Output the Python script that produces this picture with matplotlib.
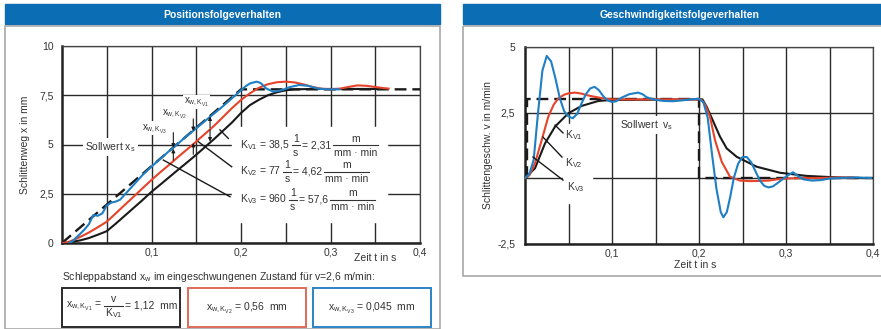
import numpy as np
import matplotlib.pyplot as plt
from matplotlib.patches import Rectangle

plt.rcParams['font.family'] = ['Liberation Sans', 'DejaVu Sans']
plt.rcParams['mathtext.fontset'] = 'custom'
plt.rcParams['mathtext.rm'] = 'Liberation Sans'
plt.rcParams['mathtext.it'] = 'Liberation Sans'
plt.rcParams['mathtext.bf'] = 'Liberation Sans:bold'
plt.rcParams['mathtext.default'] = 'regular'

# --- Daten: Positionsfolgeverhalten ---
soll_x_t = [0.0, 0.2, 0.4]
soll_x = [0.0, 7.8, 7.8]

kv1_x_t = [0.0, 0.01, 0.02, 0.03, 0.04, 0.05, 0.06, 0.07, 0.08, 0.09, 0.10, 0.11, 0.12,
           0.13, 0.14, 0.15, 0.16, 0.17, 0.18, 0.19, 0.20, 0.21, 0.22, 0.23, 0.24, 0.25,
           0.26, 0.28, 0.30, 0.36]
kv1_x = [0.0, 0.05, 0.13, 0.25, 0.42, 0.6, 0.98, 1.38, 1.78, 2.18, 2.6, 2.97, 3.35,
         3.73, 4.1, 4.48, 4.88, 5.28, 5.7, 6.12, 6.6, 7.0, 7.27, 7.5, 7.65, 7.75,
         7.8, 7.82, 7.82, 7.82]

kv2_x_t = [0.0, 0.005, 0.01, 0.02, 0.03, 0.04, 0.05, 0.06, 0.07, 0.08, 0.09, 0.10, 0.11,
           0.12, 0.13, 0.14, 0.15, 0.16, 0.17, 0.18, 0.19, 0.20, 0.21, 0.22, 0.23, 0.24,
           0.25, 0.26, 0.27, 0.28, 0.29, 0.30, 0.31, 0.32, 0.33, 0.34, 0.35, 0.36, 0.365]
kv2_x = [0.0, 0.02, 0.1, 0.3, 0.53, 0.8, 1.08, 1.5, 1.93, 2.35, 2.78, 3.2, 3.6,
         3.98, 4.38, 4.76, 5.15, 5.55, 5.95, 6.4, 6.85, 7.26, 7.6, 7.88, 8.06, 8.16,
         8.19, 8.15, 8.05, 7.92, 7.83, 7.8, 7.83, 7.92, 8.0, 7.98, 7.92, 7.86, 7.84]

kv3_x_t = [0.008, 0.012, 0.016, 0.02, 0.025, 0.03, 0.035, 0.04, 0.045, 0.05, 0.055, 0.06,
           0.065, 0.07, 0.08, 0.09, 0.10, 0.12, 0.14, 0.16, 0.18, 0.19, 0.20, 0.205,
           0.21, 0.2175, 0.222, 0.228, 0.236, 0.245, 0.255, 0.265, 0.275, 0.285, 0.295, 0.31]
kv3_x = [0.0, 0.1, 0.28, 0.45, 0.68, 0.95, 1.42, 1.38, 1.5, 1.9, 2.05, 2.1,
         2.2, 2.45, 2.95, 3.45, 3.88, 4.68, 5.45, 6.2, 6.95, 7.35, 7.75, 7.95,
         8.1, 8.19, 8.12, 7.85, 7.68, 7.75, 7.92, 8.02, 7.98, 7.85, 7.8, 7.8]

# --- Daten: Geschwindigkeitsfolgeverhalten ---
soll_v_t = [0.002, 0.002, 0.2, 0.2, 0.4]
soll_v = [0.0, 3.0, 3.0, 0.0, 0.0]

kv1_v_t = [0.0, 0.0115, 0.023, 0.0345, 0.0498, 0.065, 0.0843, 0.1, 0.2, 0.204, 0.2088,
           0.2165, 0.2241, 0.2318, 0.2433, 0.2663, 0.2931, 0.3238, 0.36, 0.389]
kv1_v = [0.0, 0.37, 1.32, 1.96, 2.47, 2.75, 2.94, 2.98, 3.0, 3.0, 2.72,
         2.15, 1.58, 1.13, 0.81, 0.43, 0.2, 0.08, 0.02, 0.0]

kv2_v_t = [0.0, 0.005, 0.0115, 0.0192, 0.0268, 0.033, 0.0383, 0.045, 0.05, 0.0575, 0.065,
           0.07, 0.08, 0.09, 0.1, 0.2, 0.203, 0.207, 0.2126, 0.2184, 0.2261, 0.2356,
           0.2471, 0.26, 0.28, 0.29, 0.3, 0.32, 0.34, 0.36, 0.377]
kv2_v = [0.0, 0.1, 0.56, 1.45, 2.34, 2.8, 3.04, 3.18, 3.23, 3.26, 3.22,
         3.17, 3.1, 3.04, 3.0, 3.0, 2.98, 2.8, 2.34, 1.45, 0.62, 0.05,
         -0.1, -0.12, -0.1, -0.05, -0.02, 0.0, 0.0, 0.02, 0.02]

kv3_v_t = [0.0, 0.005, 0.01, 0.015, 0.02, 0.025, 0.03, 0.035, 0.04, 0.045, 0.05, 0.055,
           0.06, 0.065, 0.07, 0.075, 0.08, 0.085, 0.09, 0.095, 0.1, 0.105, 0.11, 0.12,
           0.13, 0.135, 0.14, 0.15, 0.16, 0.17, 0.18, 0.19, 0.2, 0.205, 0.21, 0.215,
           0.22, 0.225, 0.228, 0.232, 0.236, 0.24, 0.245, 0.25, 0.255, 0.26, 0.265,
           0.27, 0.275, 0.28, 0.285, 0.29, 0.3, 0.308, 0.315, 0.32, 0.33, 0.34, 0.35,
           0.36, 0.38, 0.398]
kv3_v = [0.0, 0.15, 0.7, 2.5, 4.1, 4.66, 4.45, 3.8, 3.05, 2.55, 2.35, 2.28,
         2.45, 2.85, 3.2, 3.42, 3.48, 3.35, 3.12, 2.96, 2.9, 2.93, 3.05, 3.2,
         3.26, 3.2, 3.08, 2.98, 2.94, 2.93, 2.96, 3.0, 3.02, 2.9, 2.3, 0.9,
         -0.4, -1.3, -1.5, -1.3, -0.7, 0.0, 0.55, 0.8, 0.8, 0.6, 0.25,
         -0.1, -0.3, -0.36, -0.32, -0.2, 0.05, 0.22, 0.05, -0.05, -0.1, -0.08, -0.02,
         0.0, 0.02, 0.0]

x_ticks = [0.05, 0.1, 0.15, 0.2, 0.25, 0.3, 0.35, 0.4]
x_ticklabels = ['', '0,1', '', '0,2', '', '0,3', '', '0,4']
pos_yticks = [0, 2.5, 5, 7.5, 10]
pos_yticklabels = ['0', '2,5', '5', '7,5', '10']
vel_yticks = [-2.5, 0, 2.5, 5]
vel_yticklabels = ['-2,5', '', '2,5', '5']

BLUE_HEAD = '#0b6db4'
C_BLACK = '#1a1a1a'
C_RED = '#e5432a'
C_BLUE = '#1f7fc4'
TXT = '#333333'
FS = 7.5

fig = plt.figure(figsize=(8.81, 3.29), dpi=100)
renderer = fig.canvas.get_renderer()

# Hintergrund: Kopfbalken, Rahmen, Kaesten (Pixelkoordinaten)
bg = fig.add_axes([0, 0, 1, 1], zorder=0)
bg.set_xlim(0, 881)
bg.set_ylim(329, 0)
bg.axis('off')


def formel(ax, x, y, parts, fs=FS, zorder=7):
    # Text und Brueche nebeneinander setzen (x, y in Pixeln des Hintergrunds)
    for p in parts:
        if isinstance(p, tuple):
            num, den = p
            tn = ax.text(0, y - 6.5, num, fontsize=fs, color=TXT, ha='center', va='center', zorder=zorder)
            td = ax.text(0, y + 7.5, den, fontsize=fs, color=TXT, ha='center', va='center', zorder=zorder)
            w = max(tn.get_window_extent(renderer).width, td.get_window_extent(renderer).width) + 2
            tn.set_x(x + w / 2)
            td.set_x(x + w / 2)
            ax.plot([x, x + w], [y, y], color=TXT, lw=0.8, zorder=zorder)
            x += w + 2
        else:
            t = ax.text(x, y, p, fontsize=fs, color=TXT, ha='left', va='center', zorder=zorder)
            x += t.get_window_extent(renderer).width + 2


bg.add_patch(Rectangle((5, 4), 435, 20, color=BLUE_HEAD))
bg.add_patch(Rectangle((463, 4), 425, 20, color=BLUE_HEAD))
bg.text(222.5, 14.5, 'Positionsfolgeverhalten', color='white', fontweight='bold',
        fontsize=FS, ha='center', va='center')
bg.text(680, 14.5, 'Geschwindigkeitsfolgeverhalten', color='white', fontweight='bold',
        fontsize=FS, ha='center', va='center')
bg.add_patch(Rectangle((5, 26), 435, 303, fill=False, ec='#a8a8a8', lw=1.2))
bg.add_patch(Rectangle((463, 26), 425, 250, fill=False, ec='#a8a8a8', lw=1.2))

bg.text(62, 277, 'Schleppabstand x$_w$ im eingeschwungenen Zustand für v=2,6 m/min:',
        fontsize=FS, color=TXT, va='center', ha='left')
boxes = [(62, 118, '#2a2a2a'), (188, 118, '#e06a58'), (313, 118, '#2a84c4')]
for x0, w, ec in boxes:
    bg.add_patch(Rectangle((x0, 288), w, 39, fill=False, ec=ec, lw=1.4))
formel(bg, 66, 306, [r'$x_{w,K_{V1}}$ =', ('v', r'K$_{V1}$'), '= 1,12  mm'], zorder=3)
bg.text(247, 307.5, r'$x_{w,K_{V2}}$ = 0,56  mm', fontsize=FS, color=TXT, ha='center', va='center')
bg.text(372, 307.5, r'$x_{w,K_{V3}}$ = 0,045  mm', fontsize=FS, color=TXT, ha='center', va='center')


def style_axes(ax, yticks, yticklabels, ylim, ypad):
    ax.set_facecolor('none')
    ax.set_xlim(0, 0.4)
    ax.set_ylim(*ylim)
    ax.set_xticks(x_ticks)
    ax.set_xticklabels(x_ticklabels)
    ax.set_yticks(yticks)
    ax.set_yticklabels(yticklabels)
    ax.tick_params(length=0, labelsize=FS, labelcolor=TXT)
    ax.tick_params(axis='x', pad=3.5)
    ax.tick_params(axis='y', pad=ypad)
    ax.grid(True, color='#2a2a2a', lw=1.0)
    ax.set_axisbelow(True)
    for s in ['left', 'bottom']:
        ax.spines[s].set_linewidth(1.8)
        ax.spines[s].set_color('#222222')
    for s in ['top', 'right']:
        ax.spines[s].set_linewidth(0.9)
        ax.spines[s].set_color('#444444')


# --- links: Position ---
ax1 = fig.add_axes([62 / 881, 1 - 243 / 329, 358 / 881, 197 / 329], zorder=1)
style_axes(ax1, pos_yticks, pos_yticklabels, (0, 10), 6)
ax1.text(-0.103, 0.5, 'Schlittenweg x in mm', transform=ax1.transAxes, rotation=90,
         fontsize=FS, color=TXT, ha='center', va='center')
ax1.text(0.874, -0.076, 'Zeit t in s', transform=ax1.transAxes, fontsize=FS, color=TXT,
         ha='center', va='center')
ax1.add_patch(Rectangle((0.19, 1.08), 0.173, 4.81, color='white', zorder=1))

ax1.plot(soll_x_t, soll_x, color=C_BLACK, lw=1.7, ls=(0, (5, 2.5)), zorder=3)
ax1.plot(kv1_x_t, kv1_x, color=C_BLACK, lw=1.5, zorder=4)
ax1.plot(kv2_x_t, kv2_x, color=C_RED, lw=1.5, zorder=4)
ax1.plot(kv3_x_t, kv3_x, color=C_BLUE, lw=1.5, zorder=5)

ax1.text(0.0257, 4.85, 'Sollwert x$_s$', fontsize=FS, color=TXT, va='center', ha='left',
         bbox=dict(fc='white', ec='none', pad=1.5), zorder=2)

leaders = [((0.1765, 5.74), (0.1858, 5.31)),
           ((0.1523, 5.14), (0.1896, 3.87)),
           ((0.1132, 4.21), (0.1877, 2.35))]
for (xa, ya), (xb, yb) in leaders:
    ax1.plot([xa, xb], [ya, yb], color=C_BLACK, lw=1.0, zorder=6)

xw_labels = [(0.150, 7.17, r'$x_{w,K_{V1}}$'),
             (0.126, 6.58, r'$x_{w,K_{V2}}$'),
             (0.104, 5.82, r'$x_{w,K_{V3}}$')]
for xv, yv, s in xw_labels:
    ax1.text(xv, yv, s, fontsize=FS - 0.5, color=TXT, ha='center', va='center', zorder=2,
             bbox=dict(fc='white', ec='none', pad=0.5))

arr = dict(arrowstyle='-|>', color=C_BLACK, lw=0.8, mutation_scale=5, shrinkA=0, shrinkB=0)
ax1.annotate('', xy=(0.1654, 6.42), xytext=(0.1654, 5.85), arrowprops=arr, zorder=6)
ax1.annotate('', xy=(0.1654, 5.15), xytext=(0.1654, 5.75), arrowprops=arr, zorder=6)
for xv, top, ytop, ybot, bot in [(0.1467, 6.3, 5.68, 5.08, 4.5), (0.1244, 5.6, 4.84, 4.78, 4.2)]:
    ax1.annotate('', xy=(xv, ytop), xytext=(xv, top), arrowprops=arr, zorder=6)
    ax1.annotate('', xy=(xv, ybot), xytext=(xv, bot), arrowprops=arr, zorder=6)

# Kv-Formeln (Pixelkoordinaten, ueber der Achse)
fg = fig.add_axes([0, 0, 1, 1], zorder=2)
fg.set_xlim(0, 881)
fg.set_ylim(329, 0)
fg.axis('off')
formel(fg, 240, 145, [r'K$_{V1}$ = 38,5', ('1', 's'), '= 2,31', ('m', 'mm · min')])
formel(fg, 240, 171.5, [r'K$_{V2}$ = 77', ('1', 's'), '= 4,62', ('m', 'mm · min')])
formel(fg, 240, 199.5, [r'K$_{V3}$ = 960', ('1', 's'), '= 57,6', ('m', 'mm · min')])

# --- rechts: Geschwindigkeit ---
ax2 = fig.add_axes([525 / 881, 1 - 243.5 / 329, 348 / 881, 196.5 / 329], zorder=1)
style_axes(ax2, vel_yticks, vel_yticklabels, (-2.5, 5), 7)
ax2.text(-0.106, 0.5, 'Schlittengeschw. v in m/min', transform=ax2.transAxes, rotation=90,
         fontsize=FS, color=TXT, ha='center', va='center')
ax2.text(0.4885, -0.109, 'Zeit t in s', transform=ax2.transAxes, fontsize=FS, color=TXT,
         ha='center', va='center')
ax2.add_patch(Rectangle((0.044, -0.97), 0.033, 3.05, color='white', zorder=1))

ax2.plot(soll_v_t, soll_v, color=C_BLACK, lw=1.7, ls=(0, (5, 2.5)), zorder=3)
ax2.plot(kv1_v_t, kv1_v, color=C_BLACK, lw=1.5, zorder=4)
ax2.plot(kv2_v_t, kv2_v, color=C_RED, lw=1.5, zorder=4)
ax2.plot(kv3_v_t, kv3_v, color=C_BLUE, lw=1.5, zorder=5)

ax2.text(0.109, 2.02, 'Sollwert  v$_s$', fontsize=FS, color=TXT, va='center', ha='left',
         bbox=dict(fc='white', ec='none', pad=1.5), zorder=2)

v_labels = [(0.046, 1.62, r'$K_{V1}$'), (0.046, 0.57, r'$K_{V2}$'), (0.048, -0.33, r'$K_{V3}$')]
for xv, yv, s in v_labels:
    ax2.text(xv, yv, s, fontsize=FS, color=TXT, va='center', ha='left', zorder=2)
v_leaders = [((0.0345, 2.02), (0.0437, 1.72)),
             ((0.0207, 1.56), (0.0425, 0.80)),
             ((0.0092, 0.80), (0.0437, -0.08))]
for (xa, ya), (xb, yb) in v_leaders:
    ax2.plot([xa, xb], [ya, yb], color=C_BLACK, lw=1.0, zorder=6)

fig.savefig('out.png', dpi=100, facecolor='white')
